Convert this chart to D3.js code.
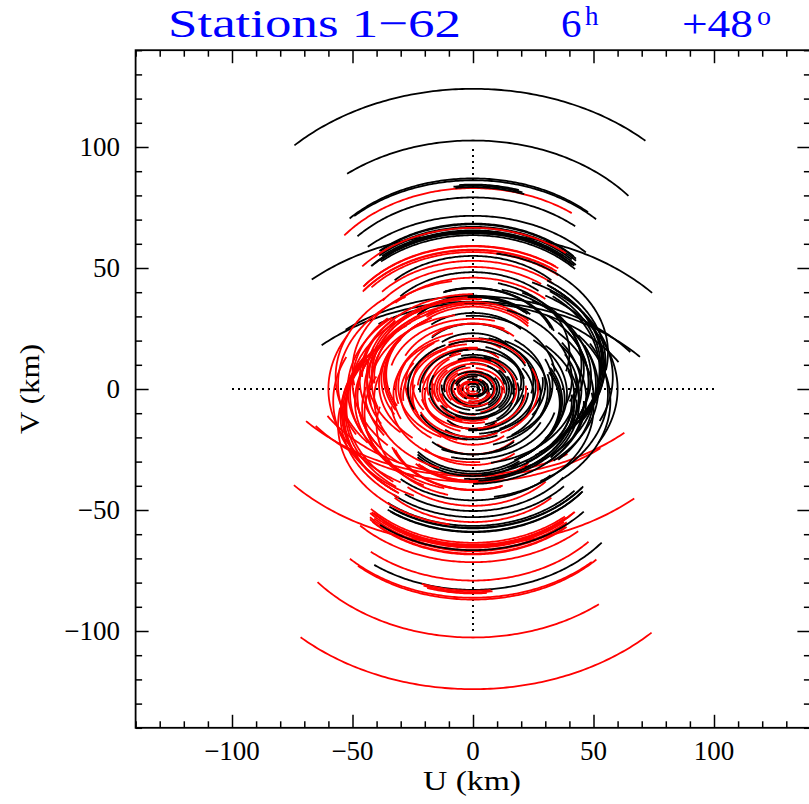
<!DOCTYPE html>
<html><head><meta charset="utf-8">
<script src="https://cdn.jsdelivr.net/npm/d3@7"></script>
<style>body{margin:0;background:#fff}</style>
</head><body>
<svg id="c" width="809" height="804"></svg>
<script>
// ---- data -------------------------------------------------------------
const declination = 48;          // degrees
const hourRange = [-3, 3];       // hours (6h track)
const domain = [-140, 140];
const majorTicks = [-100, -50, 0, 50, 100];
const minorStep = 10;
// baseline tracks: [L (km, equatorial length), phase (deg), v0 (km, Z·cosδ), hStart?, hEnd?]
const outerTracks = [
  [103,-1,47.5],[83,6,41],[70,-2,35],[71,1,33.5],[64,-3.5,31.6],[64,2,24]
];
const bandTracks = [
  [57,2,26],[57.5,3,25.3],[56.5,1.5,24.6],[58,2.5,23.9],[57,3.5,23.2],[56.5,2,22.5],
  [57.5,2,21.8],[57,3,21.2],[56,-4,23.5],[56.5,-3,22.8]
];
const upperTracks = [
  [46,0,20.8],[40.6,-3,18.1],[32,0,14.2],[32.5,2,14.4],[31.5,-2,14.6],[26.4,4,11.8],
  [22.7,-4,10.1],[19.3,3,8.7],[13.9,0,6.2],[11,-5,4.8],
  [35,25,15.7],[35.5,26,15.4],[34.5,24,16]
];
const wideTracks = [
  [100,3,-10],[93.5,2.8,-33.4],[72,12,-18],[84,6,-24]
];
const lowerTracks = [
  [67.3,172.5,-33],[60,175,-22],[57,172,-16.8],[57.5,173,-16.2],[56.5,171,-15.6],[57,172.5,-15],
  [55,175,-15.7],[50,176,-15.8],[47,172,-15.5],[44,178,-13.3],
  [30,185,-12.7],[30.5,184,-13.3],[29.5,186,-12.1],[24,180,-9.2],[18,175,-6.6],[14,185,-6.1],[11,178,-4.8]
];
const sideTracks = [
  [54,80,10],[53,82,9],[55,79,11],[52.5,84,8],[54.5,81,9.5],[53.5,80,10.5],
  [37,105,-5],[36,106,-6],[38,104,-4],[36.5,107,-5.5],
  [42,128,-6],[41,130,-5],[43,132,-6],
  [58,70,5],[57,95,-5],[60,75,0],[56,105,-2],[48,100,3],[45,72,10],[42,115,-3],
  [50,125,-8],[56,55,15],[40,60,15],[44,88,-6],[46,135,-5],[30,80,2],
  [28,100,-2],[32,120,0],[25,60,3]
];
const ringTracks = [
  [15,90,0],[17,60,1],[19,120,-1],[21,80,2],[23,140,0],[25,100,-2],[27,50,1],[29,130,3],
  [31,70,-1],[33,110,2],[35,150,-3],[39,85,-2],[41,65,4],[43,125,1],[47,95,-4],[49,75,5],
  [51,110,2],[46,60,8],[42,140,-6],[34,40,5],[31,160,-4],[22,30,0],[18,150,1],[16,110,0],
  [14,70,0],[13,40,1],[12,130,0],[11,100,0],[10,160,0],[9,60,0],
  [45,100,0],[44,105,-2],[48,85,3],[52,95,0],[50,90,-3]
];
const coreTracks = [
  [1.5,0,0],[2,90,0],[2.5,45,0.3],[3,135,0],[3.5,200,-0.3],[4,60,0],[4.5,300,0],[5,110,0.5],
  [5.5,20,0],[6,250,0],[6.5,80,-0.5],[7,150,0],[7.5,330,0.5],[8,40,0],[8.5,120,0],
  [3,0,0],[5,40,0],[6,120,1],[8,200,-1],[10,80,0],[12,300,1],[14,160,0],[15,20,2],
  [17,100,-2],[18,250,0],[20,60,3],[21,140,-1],[22,310,0],[24,20,2],[24,200,-3],
  [26,110,1],[27,290,0],[19,30,0],[9,260,0],[4,170,0],[7,330,0],[11,10,-1],[13,230,1],[16,190,0]
];
const shortTracks = [
  [60,5,39.4,-0.85,1.0],[60,5,38.8,-0.8,1.05],[60,5,39.9,-0.7,0.9]
];

// ---- drawing ----------------------------------------------------------
const svg = d3.select("#c");
const x = d3.scaleLinear().domain(domain).range([135.6, 810.4]);
const y = d3.scaleLinear().domain(domain).range([727.8, 50.2]);
const sd = Math.sin(declination * Math.PI / 180);
const line = d3.line().x(d => x(d[0])).y(d => y(d[1]));

function track(b) {
  const [L, a, v0, h0 = hourRange[0], h1 = hourRange[1]] = b;
  const n = Math.max(8, Math.round((h1 - h0) / 0.05));
  return d3.range(n + 1).map(i => {
    const h = h0 + (h1 - h0) * i / n;
    const t = (a + 15 * h) * Math.PI / 180;
    return [L * Math.sin(t), v0 + L * sd * Math.cos(t)];
  });
}

const clipId = "plotclip";
svg.append("clipPath").attr("id", clipId).append("rect")
  .attr("x", x(domain[0])).attr("y", y(domain[1]))
  .attr("width", x(domain[1]) - x(domain[0])).attr("height", y(domain[0]) - y(domain[1]));

// dotted axes
const g0 = svg.append("g").attr("stroke", "#000").attr("stroke-width", 2)
  .attr("stroke-dasharray", "2,4");
g0.append("line").attr("x1", x(-100)).attr("x2", x(100)).attr("y1", y(0)).attr("y2", y(0));
g0.append("line").attr("x1", x(0)).attr("x2", x(0)).attr("y1", y(-100)).attr("y2", y(100));

const all = [].concat(outerTracks, bandTracks, upperTracks, wideTracks, lowerTracks,
                      sideTracks, ringTracks, coreTracks, shortTracks);
const gt = svg.append("g").attr("clip-path", `url(#${clipId})`).attr("fill", "none")
  .attr("stroke-width", 1.8).attr("stroke-linecap", "butt");
all.forEach(b => {
  const p = track(b);
  gt.append("path").attr("d", line(p)).attr("stroke", "#000");
  gt.append("path").attr("d", line(p.map(q => [-q[0], -q[1]]))).attr("stroke", "#ff0000");
});

// frame + ticks
const minor = d3.range(domain[0], domain[1] + 0.1, minorStep);
svg.append("rect").attr("x", x(domain[0])).attr("y", y(domain[1]))
  .attr("width", x(domain[1]) - x(domain[0])).attr("height", y(domain[0]) - y(domain[1]))
  .attr("stroke", "#000").attr("stroke-width", 1.8).attr("fill", "none");
function addAxis(axis, tr) {
  const g = svg.append("g").attr("transform", tr).call(axis);
  g.select(".domain").remove();
  g.selectAll("line").attr("stroke", "#000").attr("stroke-width", 1.5);
  g.selectAll("text").remove();
}
[[d3.axisBottom, `translate(0,${y(domain[0])})`, x],
 [d3.axisTop, `translate(0,${y(domain[1])})`, x],
 [d3.axisLeft, `translate(${x(domain[0])},0)`, y],
 [d3.axisRight, `translate(${x(domain[1])},0)`, y]].forEach(([ax, tr, sc]) => {
  addAxis(ax(sc).tickValues(minor.filter(v => v % 50 !== 0)).tickSize(-6.5), tr);
  addAxis(ax(sc).tickValues(majorTicks).tickSize(-13), tr);
});

const fmt = d => d < 0 ? "\u2212" + Math.abs(d) : String(d);
const font = "'Liberation Serif', 'Times New Roman', serif";
svg.append("g").selectAll("text").data(majorTicks).join("text")
  .attr("x", d => x(d)).attr("y", 760).attr("text-anchor", "middle")
  .attr("font-family", font).attr("font-size", 27).text(fmt);
svg.append("g").selectAll("text").data(majorTicks).join("text")
  .attr("x", 120).attr("y", d => y(d) + 9).attr("text-anchor", "end")
  .attr("font-family", font).attr("font-size", 27).text(fmt);

svg.append("text").attr("x", 472).attr("y", 790).attr("text-anchor", "middle")
  .attr("font-family", font).attr("font-size", 27)
  .attr("textLength", 98).attr("lengthAdjust", "spacingAndGlyphs").text("U (km)");
svg.append("text").attr("transform", `translate(39,${y(0)}) rotate(-90)`).attr("text-anchor", "middle")
  .attr("font-family", font).attr("font-size", 27)
  .attr("textLength", 90).attr("lengthAdjust", "spacingAndGlyphs").text("V (km)");

// title
const tg = svg.append("g").attr("fill", "#0000ff").attr("font-family", font);
tg.append("text").attr("x", 168).attr("y", 37).attr("font-size", 41)
  .attr("textLength", 293).attr("lengthAdjust", "spacingAndGlyphs").text("Stations 1\u221262");
tg.append("text").attr("x", 561).attr("y", 37).attr("font-size", 41).text("6");
tg.append("text").attr("x", 585).attr("y", 25).attr("font-size", 27).text("h");
tg.append("text").attr("x", 682).attr("y", 37).attr("font-size", 41)
  .attr("textLength", 71).attr("lengthAdjust", "spacingAndGlyphs").text("+48");
tg.append("text").attr("x", 757).attr("y", 25).attr("font-size", 28).text("o");
</script>
</body></html>
